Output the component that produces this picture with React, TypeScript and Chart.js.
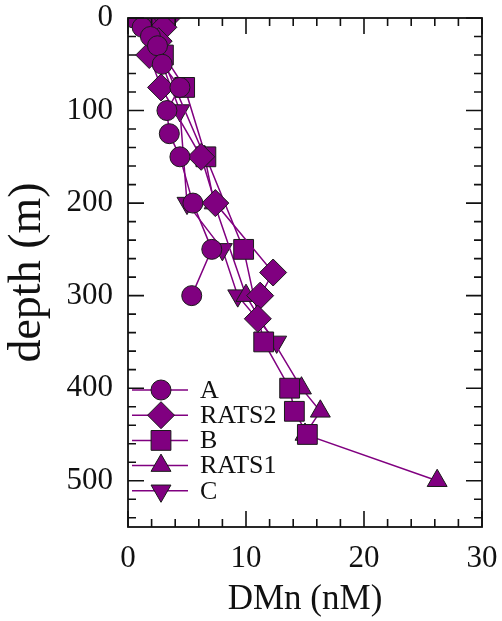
import React, { useEffect, useRef } from 'react';
import { Chart, registerables } from 'chart.js';
import { drawPoint } from 'chart.js/helpers';

Chart.register(...registerables);

// ---- data ----
const seriesNames = ['A', 'RATS2', 'B', 'RATS1', 'C'];

const dmnA = [0.5, 1.2, 1.9, 2.5, 2.9, 4.4, 3.3, 3.5, 4.4, 5.5, 7.1, 5.4];
const depthA = [0, 10, 20, 30, 50, 75, 100, 125, 150, 200, 250, 300];

const dmnRATS2 = [3.3, 3.0, 2.6, 1.8, 2.8, 6.2, 7.4, 12.3, 11.2, 11.0];
const depthRATS2 = [0, 10, 25, 40, 75, 150, 200, 275, 300, 325];

const dmnB = [2.5, 3.0, 4.8, 6.6, 9.8, 11.5, 13.7, 14.1, 15.2];
const depthB = [0, 40, 75, 150, 250, 350, 400, 425, 450];

const dmnRATS1 = [2.0, 2.8, 6.5, 7.3, 10.0, 14.7, 16.3, 15.0, 26.2];
const depthRATS1 = [0, 40, 150, 200, 300, 400, 425, 450, 500];

const dmnC = [1.5, 2.6, 4.4, 5.0, 8.0, 9.3, 12.6];
const depthC = [0, 40, 100, 200, 250, 300, 350];

const xTickValues = [0, 10, 20, 30];
const yTickValues = [0, 100, 200, 300, 400, 500];

const seriesX = [dmnA, dmnRATS2, dmnB, dmnRATS1, dmnC];
const seriesY = [depthA, depthRATS2, depthB, depthRATS1, depthC];

// ---- styles ----
const markerStyles = ['circle', 'rectRot', 'rect', 'triangle', 'triangle'];
const markerRotations = [0, 0, 0, 0, 180];
const markerRadii = [10, 13.5, 14, 11.5, 11.5];
const purple = '#800080';
const edge = '#1a1a1a';
const serif = "'Liberation Serif', 'DejaVu Serif', serif";

const frameTicksPlugin = {
  id: 'frameTicks',
  afterDatasetsDraw(chart: any) {
    const { ctx, chartArea } = chart;
    const { left, right, top, bottom } = chartArea;
    const xs = chart.scales.x;
    const ys = chart.scales.y;
    ctx.save();
    ctx.strokeStyle = '#111';
    ctx.lineWidth = 1.6;
    ctx.beginPath();
    for (let v = 0; v <= 30; v += 2) {
      const px = xs.getPixelForValue(v);
      const len = v % 10 === 0 ? 16 : 8;
      ctx.moveTo(px, bottom);
      ctx.lineTo(px, bottom - len);
      ctx.moveTo(px, top);
      ctx.lineTo(px, top + len);
    }
    for (let v = 0; v <= 540; v += 20) {
      const py = ys.getPixelForValue(v);
      const len = v % 100 === 0 ? 16 : 8;
      ctx.moveTo(left, py);
      ctx.lineTo(left + len, py);
      ctx.moveTo(right, py);
      ctx.lineTo(right - len, py);
    }
    ctx.stroke();
    ctx.lineWidth = 1.8;
    ctx.strokeRect(left, top, right - left, bottom - top);
    ctx.restore();
  },
};

const legendPlugin = {
  id: 'insideLegend',
  afterDraw(chart: any) {
    const { ctx, chartArea } = chart;
    const { left, bottom } = chartArea;
    ctx.save();
    chart.data.datasets.forEach((ds: any, i: number) => {
      const y = bottom - 137 + i * 25.2;
      ctx.strokeStyle = ds.borderColor;
      ctx.lineWidth = 1.5;
      ctx.beginPath();
      ctx.moveTo(left + 4, y);
      ctx.lineTo(left + 60, y);
      ctx.stroke();
      ctx.fillStyle = ds.pointBackgroundColor;
      ctx.strokeStyle = ds.pointBorderColor;
      ctx.lineWidth = ds.pointBorderWidth;
      drawPoint(ctx, {
        pointStyle: ds.pointStyle,
        rotation: ds.pointRotation,
        radius: ds.pointRadius,
        borderWidth: ds.pointBorderWidth,
      } as any, left + 33, y);
      ctx.fillStyle = '#111';
      ctx.font = `26px ${serif}`;
      ctx.textAlign = 'left';
      ctx.textBaseline = 'middle';
      ctx.fillText(ds.label, left + 72, y + 1);
    });
    ctx.restore();
  },
};

export default function App() {
  const canvasRef = useRef<HTMLCanvasElement | null>(null);

  useEffect(() => {
    if (!canvasRef.current) return;
    const datasets = seriesNames.map((name, i) => ({
      label: name,
      data: seriesX[i].map((x, j) => ({ x, y: seriesY[i][j] })),
      showLine: true,
      borderColor: purple,
      borderWidth: 1.5,
      pointStyle: markerStyles[i],
      pointRotation: markerRotations[i],
      pointRadius: markerRadii[i],
      pointBackgroundColor: purple,
      pointBorderColor: edge,
      pointBorderWidth: 1,
    }));
    const chart = new Chart(canvasRef.current, {
      type: 'scatter',
      data: { datasets },
      plugins: [frameTicksPlugin, legendPlugin],
      options: {
        animation: false,
        responsive: true,
        maintainAspectRatio: false,
        layout: { padding: { top: 18, right: 20, left: 0, bottom: 0 } },
        plugins: { legend: { display: false }, tooltip: { enabled: false } },
        scales: {
          x: {
            type: 'linear',
            min: 0,
            max: 30,
            afterBuildTicks: (s: any) => {
              s.ticks = xTickValues.map((v) => ({ value: v }));
            },
            afterFit: (s: any) => {
              s.height = 94;
              s.paddingLeft = 0;
              s.paddingRight = 0;
            },
            grid: { display: false, drawTicks: false },
            border: { display: false },
            ticks: { color: '#111', font: { family: serif, size: 31 }, padding: 13, maxRotation: 0 },
            title: {
              display: true,
              text: 'DMn (nM)',
              color: '#111',
              font: { family: serif, size: 35 },
              padding: { top: 2, bottom: 0 },
            },
          },
          y: {
            type: 'linear',
            reverse: true,
            min: 0,
            max: 550,
            afterBuildTicks: (s: any) => {
              s.ticks = yTickValues.map((v) => ({ value: v }));
            },
            afterFit: (s: any) => {
              s.width = 128;
              s.paddingTop = 0;
              s.paddingBottom = 0;
            },
            grid: { display: false, drawTicks: false },
            border: { display: false },
            ticks: { color: '#111', font: { family: serif, size: 31 }, padding: 15 },
            title: {
              display: true,
              text: 'depth (m)',
              color: '#111',
              font: { family: serif, size: 46 },
              padding: { top: 0, bottom: 0 },
            },
          },
        },
      } as any,
    });
    return () => chart.destroy();
  }, []);

  return (
    <div style={{ position: 'absolute', left: 0, top: 0, width: 502, height: 621, background: '#fff' }}>
      <canvas ref={canvasRef} />
    </div>
  );
}
